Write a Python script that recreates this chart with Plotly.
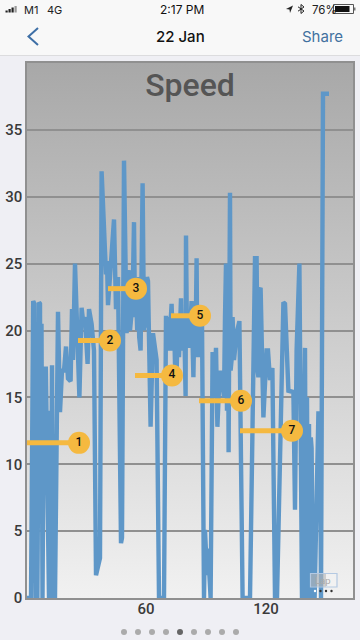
import base64
import plotly.graph_objects as go

# ---- data ----
time_x = [0.5, 2.5, 3.6, 4.2, 4.8, 5.3, 5.7, 6.5, 7, 7.3, 7.75, 8.25, 8.8, 9.9, 11.5, 12, 12.5, 13, 13.5, 14, 14.5,
          16, 17, 18, 19, 20, 21,
          22.3, 23, 23.5, 24.5, 26.7, 27.8, 28.7, 29.5, 30.8, 31.5, 32.8, 34, 35, 37, 37.8, 40, 40.5, 41,
          44, 45, 46, 47.5, 48, 49, 50.3, 50.8, 51.5, 52, 52.8, 53.5, 54, 54.5, 55, 55.6, 56, 56.6, 57.3, 58.3,
          59, 59.5, 60, 60.5, 61, 62.3, 63.5, 65.3, 66.5,
          69, 70, 70.5, 71, 71.5, 72, 72.8, 73.5, 74, 74.5, 75.3, 76, 76.5, 77.5, 78, 78.5, 79.3, 79.8, 80,
          80.5, 81, 81.5, 82, 82.8, 83.7, 84.2, 84.7, 85.3, 85.6, 86, 86.5, 87, 88, 89, 89.5,
          90.5, 91, 92.3, 93.3, 94, 95, 95.7, 96.3, 97, 98.3, 99, 99.5, 100, 100.5, 101, 101.3, 101.7, 102, 102.3,
          102.8, 103.3, 104, 105.3, 106.7, 108.3, 112,
          114.5, 115.3, 115.8, 116.2, 116.7, 117.3, 118.7, 120.3, 121, 122, 123.2, 124.5, 125.5, 128.7, 129.5, 131.2,
          133.7, 134.5, 135.3, 136.7, 138, 139, 139.5, 140, 140.5, 141, 141.5, 142, 142.4, 142.8, 143.5, 144.3,
          146.2, 147, 147.5, 148.5, 151.5]
speed = [0, 0, 22.2, 22, 0, 15, 0, 22.1, 22, 7, 20.5, 0, 13, 17.3, 0, 14, 0, 17.4, 0, 11, 0,
         21.4, 13.9, 17, 17, 18.8, 16.4,
         16.2, 21.6, 17.8, 25, 15, 21.7, 20.5, 21, 17.5, 21.6, 20.5, 18.5, 1.7, 3, 31.9, 24.2, 25.2, 21.9,
         28.3, 21.6, 24, 4.1, 4.5, 32.7, 19.8, 24, 24.5, 20, 21.3, 24, 28.1, 21, 23, 20, 24, 19.5, 18.5, 31,
         20, 24, 20.2, 24, 23.7, 12.8, 19.8, 17.8, 0,
         0, 21.1, 19, 21, 18.5, 20.5, 22, 18.5, 21, 17.5, 16.8, 21, 18, 22.4, 18.5, 21, 19, 15.1, 27.1,
         19, 21, 18.7, 21, 22.2, 16.5, 21, 18, 25.4, 18.5, 20.7, 18, 21, 20.7, 0, 5.1,
         1.7, 3.7, 0, 18.4, 15, 18.7, 12.8, 15, 17, 15.9, 15, 21, 25, 14, 25, 10.9, 24, 30.3, 17,
         17.8, 21, 17.8, 19.8, 20.7, 0, 0,
         25.4, 25.4, 17, 16.5, 23, 23.2, 13.5, 18.5, 18.5, 16.3, 17.2, 0, 0, 22.1, 22, 15.5,
         15.4, 6.6, 18.5, 25, 0, 18.7, 18.7, 0, 15, 0, 13, 0, 12, 11.2, 0, 0,
         13.8, 13.8, 0, 37.7, 37.7]

callout_labels = ["1", "2", "3", "4", "5", "6", "7"]
callout_start = [0.5, 26, 41, 54.5, 72.5, 86.5, 107]
callout_end = [26.5, 42, 55, 73, 87, 107.5, 133]
callout_y = [11.6, 19.25, 23.13, 16.64, 21.1, 14.75, 12.5]

y_ticks = [0, 5, 10, 15, 20, 25, 30, 35]
x_ticks = [60, 120]

W, H = 360, 640
def px(x): return x / W
def py(y): return 1 - y / H

BLUE = "#5e97c8"
ORANGE = "#f5b940"
GRID = "#909090"

fig = go.Figure()
fig.add_trace(go.Scatter(x=time_x, y=speed, mode="lines", cliponaxis=True,
                         line=dict(color=BLUE, width=4.4), hoverinfo="skip"))
for lab, a, b, v in zip(callout_labels, callout_start, callout_end, callout_y):
    fig.add_trace(go.Scatter(x=[a, b], y=[v, v], mode="lines",
                             line=dict(color=ORANGE, width=5), hoverinfo="skip"))
    fig.add_trace(go.Scatter(x=[b], y=[v], mode="markers+text", text=[lab],
                             textposition="middle center",
                             textfont=dict(family="Roboto", size=12, color="#111", weight=500),
                             marker=dict(size=22, color=ORANGE), hoverinfo="skip"))

svg = ('<svg xmlns="http://www.w3.org/2000/svg" width="326" height="535" preserveAspectRatio="none">'
       '<defs><linearGradient id="g" x1="0" y1="0" x2="0" y2="1">'
       '<stop offset="0" stop-color="#a8a8a8"/><stop offset="1" stop-color="#f1f1f1"/>'
       '</linearGradient></defs><rect width="326" height="535" fill="url(#g)"/></svg>')
src = "data:image/svg+xml;base64," + base64.b64encode(svg.encode()).decode()

shapes = []
def rect(x0, y0, x1, y1, fill, line=None, lw=0, layer="above"):
    shapes.append(dict(type="rect", xref="paper", yref="paper", x0=px(x0), x1=px(x1), y0=py(y0), y1=py(y1),
                       fillcolor=fill, line=dict(color=line or fill, width=lw), layer=layer))
def path(points, color, width=0, fill=None, closed=False):
    d = "M " + " L ".join(f"{px(a):.5f},{py(b):.5f}" for a, b in points) + (" Z" if closed else "")
    shapes.append(dict(type="path", xref="paper", yref="paper", path=d,
                       line=dict(color=color, width=width), fillcolor=fill or "rgba(0,0,0,0)", layer="above"))
def dot(cx, cy, r, color):
    shapes.append(dict(type="circle", xref="paper", yref="paper", x0=px(cx - r), x1=px(cx + r),
                       y0=py(cy + r), y1=py(cy - r), fillcolor=color, line=dict(width=0), layer="above"))

# top bar
rect(0, 0, 360, 55, "#f8f8f8", layer="below")
rect(0, 55, 360, 56, "#dcdcde", layer="below")
# signal bars
for i, (x0, top) in enumerate([(5.5, 10.5), (8.5, 9), (11.5, 7.5), (14.5, 6)]):
    rect(x0, top, x0 + 2.2, 12.5, "#222" if i < 3 else "#999")
# location arrow
path([(293, 5.5), (286, 9), (289.5, 9.5), (290, 13)], "#222", fill="#222", closed=True)
# bluetooth
path([(298, 6.8), (304, 11), (301, 13.5), (301, 4.5), (304, 7), (298, 11.2)], "#222", width=1)
# battery
rect(333.5, 4.5, 353.5, 13.5, "rgba(0,0,0,0)", line="#555", lw=1)
rect(335, 6, 349.5, 12, "#111")
rect(354, 7.5, 355.5, 10.5, "#777")
# back chevron
path([(38, 28), (28.5, 36.5), (38, 45)], "#3e6fa6", width=2)
# lap legend
rect(310.5, 573.5, 337, 587, "rgba(255,255,255,0.2)", line="#b4c9e2", lw=1.2)
rect(311, 574, 326, 586.5, "rgba(170,170,170,0.5)")
for cx, col in [(315, "#fff"), (320.5, "#333"), (326, "#333"), (331.5, "#333")]:
    dot(cx, 591, 1.2, col)
# pager dots
for i, cx in enumerate([124, 138, 152, 166, 180, 194, 208, 222, 236]):
    dot(cx, 632, 3, "#666" if i == 4 else "#ababab")

def note(text, x, y, size, color, family="Inter", anchor="center", weight=None):
    fig.add_annotation(text=text, xref="paper", yref="paper", x=px(x), y=py(y), showarrow=False,
                       xanchor=anchor, yanchor="middle",
                       font=dict(family=family, size=size, color=color, weight=weight))

note("M1", 22, 9.5, 11, "#222", anchor="left")
note("4G", 45, 9.5, 11, "#222", anchor="left")
note("2:17 PM", 182, 9.5, 12, "#111")
note("76%", 309.5, 9.5, 11.5, "#222", anchor="left")
note("22 Jan", 180, 36.5, 15, "#111", weight=500)
note("Share", 322, 36.5, 15, "#42719f")
note("Lap", 323, 580.5, 9.5, "#aaaaaa", family="Roboto")

fig.update_layout(
    width=W, height=H, margin=dict(l=0, r=0, t=0, b=0), showlegend=False,
    paper_bgcolor="#efeff4", plot_bgcolor="rgba(0,0,0,0)",
    title=dict(text="Speed", x=190 / W, y=py(85), xanchor="center", yanchor="middle", xref="paper", yref="paper",
               font=dict(family="Roboto", size=32, color="#555555", weight=500)),
    xaxis=dict(domain=[27 / W, 353 / W], range=[0.5, 163.5], tickvals=x_ticks, showgrid=False, zeroline=False,
               showline=True, mirror=True, linecolor=GRID, linewidth=1.5, ticks="", ticklabelstandoff=-4,
               tickfont=dict(family="Roboto", size=15, color="#3a3a3a", weight=500), automargin=False),
    yaxis=dict(domain=[42 / H, 577 / H], range=[0, 40], tickvals=y_ticks, showgrid=True, gridcolor=GRID,
               gridwidth=1.5, zeroline=False, showline=True, mirror=True, linecolor=GRID, linewidth=1.5, ticks="",
               tickfont=dict(family="Roboto", size=15, color="#3a3a3a", weight=500), automargin=False),
    images=[dict(source=src, xref="paper", yref="paper", x=27 / W, y=1 - 63 / H, sizex=326 / W, sizey=535 / H,
                 xanchor="left", yanchor="top", sizing="stretch", layer="below")],
    shapes=shapes,
)
fig.write_html("out.html", config=dict(displayModeBar=False),
               post_script="document.body.style.margin='0';document.body.style.overflow='hidden';")
